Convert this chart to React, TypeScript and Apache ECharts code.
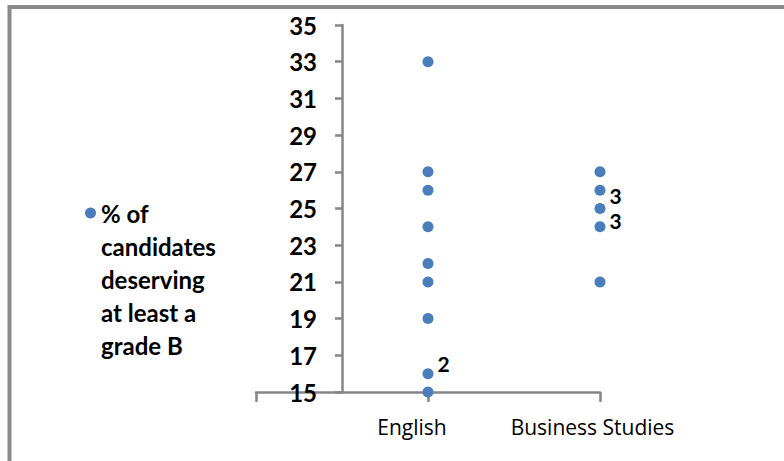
import React, { useEffect, useRef } from "react";
import * as echarts from "echarts";

// ---- data ----
const categories = ["English", "Business Studies"];
const categoryX = [0.5, 1.5];
const englishValues = [33, 27, 26, 24, 22, 21, 19, 16, 15];
const businessValues = [27, 26, 25, 24, 21];
// point annotations: [category index, value, label]
const annotations: [number, number, string][] = [
  [0, 16, "2"],
  [1, 25, "3"],
  [1, 24, "3"],
];
const yTicks = [15, 17, 19, 21, 23, 25, 27, 29, 31, 33, 35];
const xTicks = [-0.5, 0.5, 1.5];
const seriesName = "% of candidates deserving at least a grade B";
const legendLines = ["% of", "candidates", "deserving", "at least a", "grade B"];

// styling (label nudges, one per annotation)
const annotationOffsets = [
  [0, -10],
  [0, -13],
  [0, -6],
];
const BLUE = "#4a7ebb";
const GREY = "#868686";

export default function App() {
  const ref = useRef<HTMLDivElement>(null);

  useEffect(() => {
    if (!ref.current) return;
    const chart = echarts.init(ref.current, undefined, { renderer: "svg" });

    const groups = [englishValues, businessValues];
    const data: any[] = [];
    groups.forEach((vals, ci) => {
      vals.forEach((v) => {
        const ai = annotations.findIndex((a) => a[0] === ci && a[1] === v);
        const item: any = { value: [categoryX[ci], v] };
        if (ai >= 0) {
          item.label = {
            show: true,
            formatter: annotations[ai][2],
            position: "right",
            distance: 4,
            offset: annotationOffsets[ai],
            color: "#000",
            fontFamily: "Lato",
            fontWeight: "bold",
            fontSize: 21,
            lineHeight: 20,
          };
        }
        data.push(item);
      });
    });

    // blank lines before the text keep the first line level with the marker
    const legendText =
      legendLines.slice(1).map(() => "").join("\n") + "\n" + legendLines.join("\n");

    chart.setOption({
      animation: false,
      backgroundColor: "#fff",
      graphic: [
        {
          type: "rect",
          silent: true,
          z: -1,
          shape: { x: 9.5, y: 7, width: 800, height: 500 },
          style: { fill: "none", stroke: "#8a8a8a", lineWidth: 4 },
        },
      ],
      legend: {
        show: true,
        orient: "vertical",
        left: 85,
        top: 64.5,
        padding: 0,
        itemWidth: 11,
        itemHeight: 11,
        itemGap: 0,
        icon: "circle",
        data: [seriesName],
        formatter: () => legendText,
        textStyle: {
          fontFamily: "Lato",
          fontWeight: "bold",
          fontSize: 24,
          lineHeight: 33,
          color: "#000",
        },
      },
      grid: { left: 256, right: 184, top: 25, bottom: 69, containLabel: false },
      xAxis: {
        type: "value",
        min: -0.5,
        max: 1.5,
        splitLine: { show: false },
        axisLine: { show: true, onZero: false, lineStyle: { color: GREY, width: 2.5 } },
        axisTick: {
          show: true,
          length: 10,
          customValues: xTicks,
          lineStyle: { color: GREY, width: 2.5 },
        },
        axisLabel: {
          show: true,
          customValues: categoryX,
          margin: 24,
          formatter: (v: number) => {
            const i = categoryX.indexOf(v);
            if (i < 0) return "";
            return i === 0 ? `{e|${categories[i]}}` : `{b|${categories[i]}}`;
          },
          rich: {
            e: {
              fontFamily: "Open Sans",
              fontSize: 21,
              color: "#000",
              padding: [0, 32, 0, 0],
            },
            b: {
              fontFamily: "Open Sans",
              fontSize: 21,
              color: "#000",
              padding: [0, 15, 0, 0],
            },
          },
        },
      },
      yAxis: {
        type: "value",
        min: 15,
        max: 35,
        offset: -86,
        splitLine: { show: false },
        axisLine: { show: true, onZero: false, lineStyle: { color: GREY, width: 2.5 } },
        axisTick: {
          show: true,
          length: 7,
          customValues: yTicks,
          lineStyle: { color: GREY, width: 2.5 },
        },
        axisLabel: {
          show: true,
          customValues: yTicks,
          margin: 25,
          color: "#000",
          fontFamily: "Lato",
          fontWeight: "bold",
          fontSize: 24,
        },
      },
      series: [
        {
          name: seriesName,
          type: "scatter",
          symbol: "circle",
          symbolSize: 11,
          itemStyle: { color: BLUE, opacity: 1 },
          clip: false,
          data,
        },
      ],
    });

    return () => chart.dispose();
  }, []);

  return (
    <div
      ref={ref}
      style={{ position: "fixed", left: 0, top: 0, width: 784, height: 461 }}
    />
  );
}
